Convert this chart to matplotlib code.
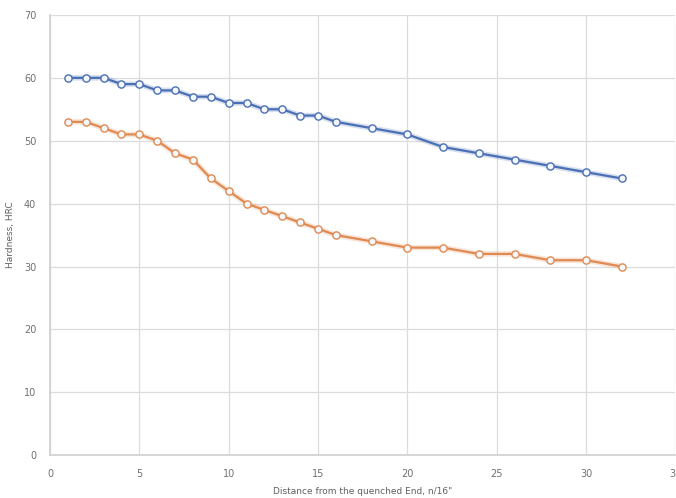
import matplotlib
matplotlib.use("Agg")
import matplotlib.pyplot as plt

x_blue = [1, 2, 3, 4, 5, 6, 7, 8, 9, 10, 11, 12, 13, 14, 15, 16, 18, 20, 22, 24, 26, 28, 30, 32]
y_blue = [60, 60, 60, 59, 59, 58, 58, 57, 57, 56, 56, 55, 55, 54, 54, 53, 52, 51, 49, 48, 47, 46, 45, 44]
x_orange = [1, 2, 3, 4, 5, 6, 7, 8, 9, 10, 11, 12, 13, 14, 15, 16, 18, 20, 22, 24, 26, 28, 30, 32]
y_orange = [53, 53, 52, 51, 51, 50, 48, 47, 44, 42, 40, 39, 38, 37, 36, 35, 34, 33, 33, 32, 32, 31, 31, 30]
x_ticks = [0, 5, 10, 15, 20, 25, 30, 35]
y_ticks = [0, 10, 20, 30, 40, 50, 60, 70]

fig = plt.figure(figsize=(6.76, 4.98), dpi=100)
ax = fig.add_axes([0.074, 0.086, 0.925, 0.884])

for xs, ys, c in [(x_blue, y_blue, "#4a6fb5"), (x_orange, y_orange, "#e08a52")]:
    ax.plot(xs, ys, color=c, lw=4, alpha=0.22, zorder=2)
    ax.plot(xs, ys, color=c, lw=1.6, marker="o", ms=5.2, mfc="#f4f7fb",
            mec=c, mew=1.0, zorder=3)

ax.set_xlim(0, 35)
ax.set_ylim(0, 70)
ax.set_xticks(x_ticks)
ax.set_yticks(y_ticks)
ax.grid(True, color="#dcdcdc", lw=0.9)
ax.set_axisbelow(True)
for s in ["top", "right"]:
    ax.spines[s].set_visible(False)
for s in ["left", "bottom"]:
    ax.spines[s].set_color("#d0d0d0")
    ax.spines[s].set_linewidth(1.2)
ax.tick_params(length=0, labelsize=7, colors="#707070", pad=10)
ax.set_xlabel('Distance from the quenched End, n/16"', fontsize=6.5, color="#606060", labelpad=6)
ax.set_ylabel("Hardness, HRC", fontsize=6.5, color="#606060", labelpad=6)

fig.savefig("out.png", dpi=100)
